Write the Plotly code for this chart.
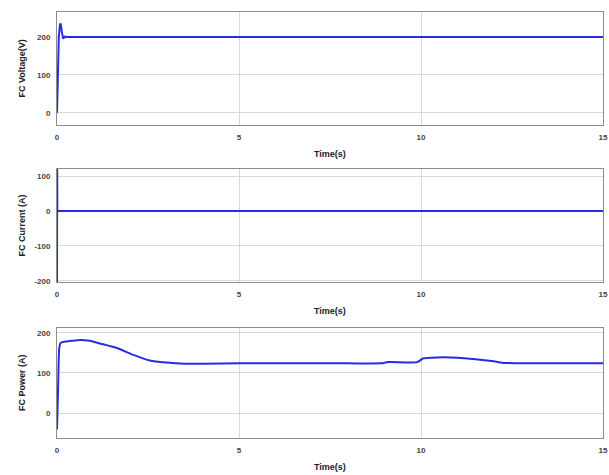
import plotly.graph_objects as go

# ---- data ----
t_v = [0, 0.02, 0.05, 0.08, 0.1, 0.13, 0.17, 0.22, 0.3, 15]
volt = [0, 100, 200, 232, 236, 215, 196, 201, 200, 200]

t_i = [0, 0.005, 0.01, 15]
curr = [-210, 130, 0, 0]

t_p = [0, 0.03, 0.06, 0.1, 0.2, 0.4, 0.63, 0.9, 1.2, 1.65, 2.1, 2.55, 3.0, 3.5, 4.0,
       5.0, 6, 7, 8, 8.9, 9.1, 9.9, 10.05, 10.3, 10.6, 11.0, 11.5, 12.0, 12.3, 13, 14, 15]
power = [-40, 60, 160, 175, 178, 180, 182, 180, 173, 162, 145, 131, 126, 123, 123,
         124, 124, 124, 124, 124, 127, 127, 136, 138, 139, 138, 134, 129, 125, 124, 124, 124]

x_ticks = [0, 5, 10, 15]
y_titles = ["FC Voltage(V)", "FC Current (A)", "FC Power (A)"]
y_ranges = [[-32, 266], [-203, 120], [-62, 212]]
y_ticks = [[0, 100, 200], [-200, -100, 0, 100], [0, 100, 200]]

W, H = 609, 475
px_left, px_right = 57, 603
panels_px = [(12, 125), (169, 282), (328, 438)]

line_col = "#2a2ae6"
fig = go.Figure()
series = [(t_v, volt, "linear"), (t_i, curr, "linear"), (t_p, power, "spline")]
layout = {}
for k, ((tx, ty, shp), (top, bot)) in enumerate(zip(series, panels_px)):
    idx = "" if k == 0 else str(k + 1)
    fig.add_trace(go.Scatter(x=tx, y=ty, mode="lines", xaxis="x" + idx, yaxis="y" + idx,
                             line=dict(color=line_col, width=2, shape=shp, smoothing=0.5),
                             showlegend=False))
    dom_y = [1 - bot / H, 1 - top / H]
    common = dict(showgrid=True, gridcolor="#d9d9d9", gridwidth=1, showline=True,
                  linecolor="#8c8c8c", linewidth=1, mirror=True, zeroline=False,
                  ticks="", tickfont=dict(family="Liberation Sans, Arial", size=8, color="#444444"),
                  automargin=False)
    layout["xaxis" + idx] = dict(domain=[px_left / W, px_right / W], range=[0, 15],
                                 tickvals=x_ticks, ticktext=["<b>%d</b>" % v for v in x_ticks],
                                 anchor="y" + idx, ticklabelstandoff=4, **common)
    layout["yaxis" + idx] = dict(domain=dom_y, range=y_ranges[k], tickvals=y_ticks[k],
                                 ticktext=["<b>%d</b>" % v for v in y_ticks[k]],
                                 anchor="x" + idx, ticklabelstandoff=4, **common)
fig.update_layout(**layout)

ann = []
for k, (top, bot) in enumerate(panels_px):
    ann.append(dict(text="<b>" + y_titles[k] + "</b>", xref="paper", yref="paper",
                    x=22 / W, y=1 - (top + bot) / 2 / H, textangle=-90, showarrow=False,
                    font=dict(family="Liberation Sans, Arial", size=9, color="#222222"),
                    xanchor="center", yanchor="middle"))
    ann.append(dict(text="<b>Time(s)</b>", xref="paper", yref="paper",
                    x=(px_left + px_right) / 2 / W, y=1 - (bot + 29) / H, showarrow=False,
                    font=dict(family="Liberation Sans, Arial", size=9, color="#222222"),
                    xanchor="center", yanchor="middle"))

fig.update_layout(width=W, height=H, margin=dict(l=0, r=0, t=0, b=0),
                  paper_bgcolor="white", plot_bgcolor="white", annotations=ann)
fig.write_html("out.html")
